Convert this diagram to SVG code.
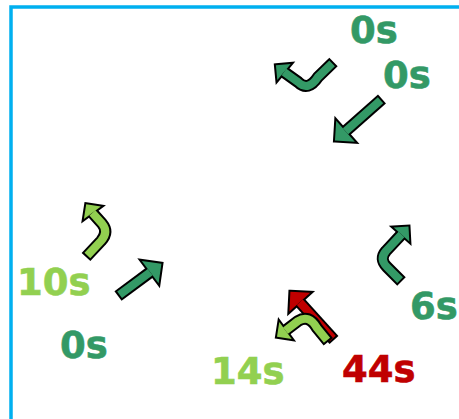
<svg xmlns="http://www.w3.org/2000/svg" width="459" height="419" viewBox="0 0 459 419">
<style>
.ol{fill:none;stroke:#000;stroke-width:12;stroke-linecap:butt;stroke-linejoin:round}
.oh{fill:#000;stroke:#000;stroke-width:4;stroke-linejoin:miter}
.sh{fill:none;stroke-width:8;stroke-linecap:butt;stroke-linejoin:round}
.dg .sh{stroke:#339966}.dg .hd{fill:#339966}
.lg .sh{stroke:#92D050}.lg .hd{fill:#92D050}
.rd .sh{stroke:#C00000}.rd .hd{fill:#C00000}
text{font-family:"DejaVu Sans","Verdana",sans-serif;font-weight:bold;font-size:37px;stroke-width:0.6}
.tdg{fill:#339966;stroke:#339966}.tlg{fill:#92D050;stroke:#92D050}.trd{fill:#C00000;stroke:#C00000}
</style>
<rect width="459" height="419" fill="#fff"/>
<path d="M11,419 V7 H459" fill="none" stroke="#00B0F0" stroke-width="3.5"/>
<g id="connectors">
<g id="arrow1" class="dg">
<path class="ol" d="M333.5,62 L318,77 Q308,92 298,82 L284,72"/>
<polygon class="oh" points="275.9,65.3 290.7,63.9 277.3,80.1"/>
<path class="sh" d="M332.1,63.4 L318,77 Q308,92 298,82 L284,72"/>
<polygon class="hd" points="275.9,65.3 290.7,63.9 277.3,80.1"/>
</g>
<g id="arrow2" class="dg">
<path class="ol" d="M382,99 L345.5,131.2"/>
<polygon class="oh" points="335,140.5 354.8,141.7 336.2,120.7"/>
<path class="sh" d="M380.5,100.3 L345.5,131.2"/>
<polygon class="hd" points="335,140.5 354.8,141.7 336.2,120.7"/>
</g>
<g id="arrow3" class="lg">
<path class="ol" d="M86,257 L101,241 Q109,232 102,223.5 L92.4,212.8"/>
<polygon class="oh" points="86.2,204.3 100.9,206.6 83.9,219"/>
<path class="sh" d="M87.4,255.5 L101,241 Q109,232 102,223.5 L92.4,212.8"/>
<polygon class="hd" points="86.2,204.3 100.9,206.6 83.9,219"/>
</g>
<g id="arrow4" class="dg">
<path class="ol" d="M118,296 L150.2,272.1"/>
<polygon class="oh" points="161.4,263.7 158.6,283.3 141.8,260.9"/>
<path class="sh" d="M119.6,294.8 L150.2,272.1"/>
<polygon class="hd" points="161.4,263.7 158.6,283.3 141.8,260.9"/>
</g>
<g id="arrow5" class="dg">
<path class="ol" d="M401.5,281.5 L387,267 Q379,259 386,251 L401.5,234.4"/>
<polygon class="oh" points="408.5,226.6 409.3,241.4 393.7,227.4"/>
<path class="sh" d="M400.1,280.1 L387,267 Q379,259 386,251 L401.5,234.4"/>
<polygon class="hd" points="408.5,226.6 409.3,241.4 393.7,227.4"/>
</g>
<g id="arrow6" class="rd">
<path class="ol" d="M334,340 L299.8,302.2"/>
<polygon class="oh" points="290.4,291.8 310.2,292.8 289.4,311.6"/>
<path class="sh" d="M332.7,338.5 L299.8,302.2"/>
<polygon class="hd" points="290.4,291.8 310.2,292.8 289.4,311.6"/>
</g>
<g id="arrow7" class="lg">
<path class="ol" d="M328.3,341.7 L317,328 Q309,314 298,321 L285.5,330.6"/>
<polygon class="oh" points="277,336.8 291.7,339.1 279.3,322.1"/>
<path class="sh" d="M327,340.2 L317,328 Q309,314 298,321 L285.5,330.6"/>
<polygon class="hd" points="277,336.8 291.7,339.1 279.3,322.1"/>
</g>
</g>
<g id="labels">
<text class="tdg" x="350" y="43">0s</text>
<text class="tdg" x="383" y="88">0s</text>
<text class="tlg" x="17" y="295">10s</text>
<text class="tdg" x="60" y="358">0s</text>
<text class="tdg" x="410" y="319">6s</text>
<text class="tlg" x="211" y="384">14s</text>
<text class="trd" x="342" y="382">44s</text>
</g>
</svg>
